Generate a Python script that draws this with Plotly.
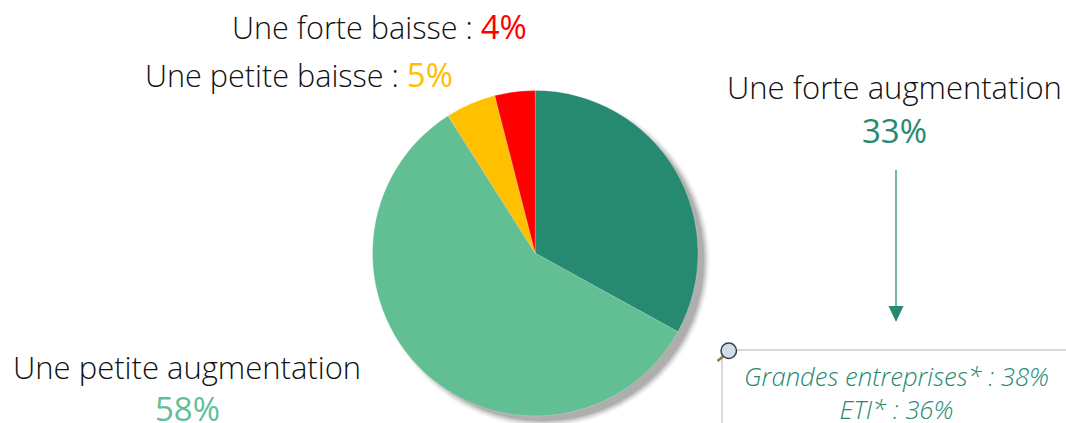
import plotly.graph_objects as go

W, H = 1066, 423
categories = ["Une forte augmentation", "Une petite augmentation", "Une petite baisse", "Une forte baisse"]
values = [33, 58, 5, 4]
colors = ["#268A70", "#62BF94", "#FFC000", "#FF0000"]
sub_labels = ["Grandes entreprises* : 38%", "ETI* : 36%"]
FONT = "Open Sans"

def px(x): return x / W
def py(y): return 1 - y / H

fig = go.Figure(go.Pie(
    values=values, labels=categories, sort=False, direction="clockwise", rotation=0,
    marker=dict(colors=colors, line=dict(color="#FFFFFF", width=0.2)),
    textinfo="none", hoverinfo="label+percent", showlegend=False,
    domain=dict(x=[px(372.5), px(698)], y=[py(416), py(90.5)]),
))

shapes = []
# soft shadow of the pie
for grow, op in [(4, 0.04), (3, 0.06), (2, 0.08), (1, 0.10), (0, 0.12), (-1, 0.15), (-2, 0.2)]:
    r = 163 + grow
    cx, cy = 543, 260
    shapes.append(dict(type="circle", xref="paper", yref="paper", layer="below",
                       x0=px(cx - r), x1=px(cx + r), y0=py(cy + r), y1=py(cy - r),
                       fillcolor="#707070", opacity=op, line=dict(width=0)))
# arrow
shapes.append(dict(type="line", xref="paper", yref="paper", x0=px(896), x1=px(896), y0=py(170), y1=py(308),
                   line=dict(color="#268A70", width=1.25)))
shapes.append(dict(type="path", xref="paper", yref="paper",
                   path=f"M {px(888.5)} {py(306)} L {px(903.5)} {py(306)} L {px(896)} {py(322)} Z",
                   fillcolor="#268A70", line=dict(width=0)))
# callout box edges
for x0, y0, x1, y1 in [(722, 350, 1066, 350), (722, 350, 722, 423)]:
    shapes.append(dict(type="line", xref="paper", yref="paper", x0=px(x0), x1=px(x1), y0=py(y0), y1=py(y1),
                       line=dict(color="#D9D9D9", width=2)))
# magnifier icon
shapes.append(dict(type="line", xref="paper", yref="paper", x0=px(717.5), x1=px(723), y0=py(361), y1=py(356.5),
                   line=dict(color="#8A7F3A", width=2.5)))
shapes.append(dict(type="circle", xref="paper", yref="paper", x0=px(721), x1=px(736.5), y0=py(358.5), y1=py(343),
                   fillcolor="#CFDDE8", line=dict(color="#3A3F45", width=1.5)))

def note(x, y, text, size, color="#111111", anchor="center", italic=False, weight=300):
    return dict(x=px(x), y=py(y), xref="paper", yref="paper", text=text, showarrow=False,
                xanchor=anchor, yanchor="middle", align="center",
                font=dict(family=FONT, size=size, color=color, weight=weight,
                          style="italic" if italic else "normal"))

def pct(v, color):
    return f"<span style='color:{color};font-weight:400;font-size:33px'>{v}%</span>"

annotations = [
    note(529, 27, f"Une forte baisse : {pct(values[3], colors[3])}", 30.6, anchor="right"),
    note(455, 74, f"Une petite baisse : {pct(values[2], colors[2])}", 30.6, anchor="right"),
    note(894, 87, categories[0], 31),
    note(894, 130, f"{values[0]}%", 33, color=colors[0], weight=400),
    note(187, 367, categories[1], 31),
    note(187, 408, f"{values[1]}%", 33, color=colors[1], weight=400),
    note(896, 392.5, "<br>".join(sub_labels), 25.7, color="#268A70", italic=True),
]

fig.update_layout(width=W, height=H, margin=dict(l=0, r=0, t=0, b=0), autosize=False,
                  paper_bgcolor="white", plot_bgcolor="white", shapes=shapes, annotations=annotations)
fig.write_html("out.html", config=dict(displayModeBar=False),
               post_script="document.body.style.margin='0';document.body.style.overflow='hidden';")
